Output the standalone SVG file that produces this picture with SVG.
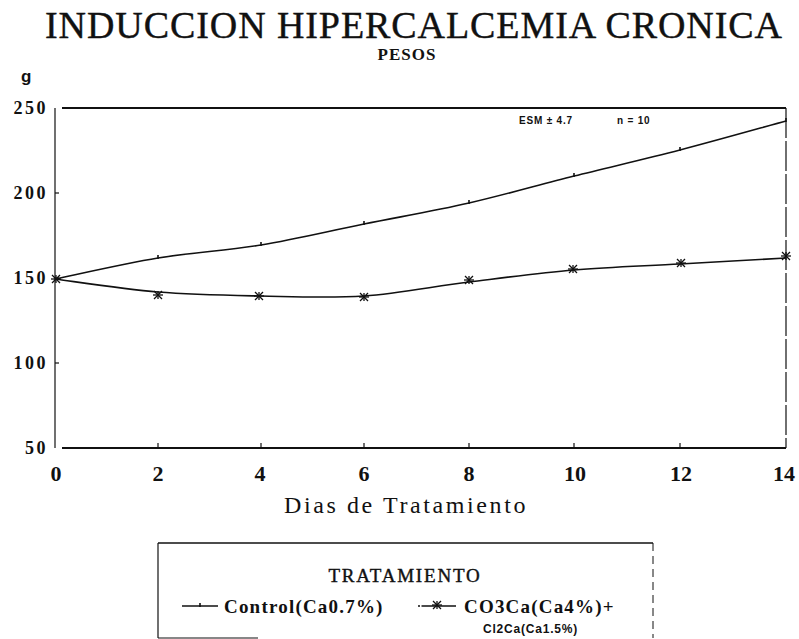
<svg xmlns="http://www.w3.org/2000/svg" xmlns:xlink="http://www.w3.org/1999/xlink" width="799" height="639" viewBox="0 0 799 639">
<style>
.title{font-family:"Liberation Serif",serif;font-size:38px;fill:#111;stroke:#111;stroke-width:0.4}
.sub{font-family:"Liberation Serif",serif;font-size:17px;font-weight:bold;fill:#111}
.ylab{font-family:"Liberation Serif",serif;font-size:18px;font-weight:bold;letter-spacing:2.5px;fill:#111;text-anchor:end}
.xlab{font-family:"Liberation Serif",serif;font-size:22px;font-weight:bold;fill:#111;text-anchor:middle}
.xtitle{font-family:"Liberation Serif",serif;font-size:24px;letter-spacing:2.6px;fill:#111;text-anchor:middle}
.leg{font-family:"Liberation Serif",serif;font-size:19px;font-weight:bold;letter-spacing:1.2px;fill:#111}
.legt{font-family:"Liberation Serif",serif;font-size:19px;letter-spacing:1.8px;fill:#111;stroke:#111;stroke-width:0.4;text-anchor:middle}
.small{font-family:"Liberation Sans",sans-serif;font-size:10px;font-weight:bold;letter-spacing:0.8px;fill:#111}
.axis{stroke:#111;fill:none}
.curve{stroke:#111;stroke-width:1.6;fill:none}
.tick{stroke:#111;stroke-width:1.2}
</style>
<defs>
<g id="ast" stroke="#111" stroke-width="1.3">
<line x1="-5" y1="0" x2="5" y2="0"/>
<line x1="-4" y1="-4" x2="4" y2="4"/>
<line x1="-4" y1="4" x2="4" y2="-4"/>
<line x1="0" y1="-4" x2="0" y2="4"/>
</g>
<g id="dot" stroke="#111" stroke-width="1.6">
<line x1="0" y1="-3" x2="0" y2="1"/>
</g>
</defs>

<g id="title">
<text class="title" x="45" y="38" textLength="737" lengthAdjust="spacing">INDUCCION HIPERCALCEMIA CRONICA</text>
<text class="sub" x="407" y="60" text-anchor="middle" letter-spacing="1">PESOS</text>
</g>

<g id="y-axis">
<text x="21" y="82" font-family="Liberation Sans,sans-serif" font-size="17" font-weight="bold" fill="#111">g</text>
<text class="ylab" x="48" y="114">250</text>
<text class="ylab" x="48" y="199">200</text>
<text class="ylab" x="48" y="284">150</text>
<text class="ylab" x="48" y="369">100</text>
<text class="ylab" x="48" y="454">50</text>
<line class="axis" x1="55" y1="108" x2="55" y2="448" stroke-width="1.2"/>
<line class="tick" x1="55" y1="193" x2="59" y2="193"/>
<line class="tick" x1="55" y1="278" x2="59" y2="278"/>
<line class="tick" x1="55" y1="363" x2="59" y2="363"/>
</g>

<g id="frame">
<line class="axis" x1="62" y1="108" x2="786" y2="108" stroke-width="2"/>
<line class="axis" x1="786" y1="108" x2="786" y2="448" stroke-width="1.2" stroke-dasharray="30 3"/>
<line class="axis" x1="62" y1="448" x2="786" y2="448" stroke-width="2"/>
<text class="small" x="519" y="124">ESM ± 4.7</text>
<text class="small" x="617" y="124">n = 10</text>
</g>

<g id="x-axis">
<line class="tick" x1="158" y1="448" x2="158" y2="443"/>
<line class="tick" x1="261" y1="448" x2="261" y2="443"/>
<line class="tick" x1="364" y1="448" x2="364" y2="443"/>
<line class="tick" x1="469" y1="448" x2="469" y2="443"/>
<line class="tick" x1="574" y1="448" x2="574" y2="443"/>
<line class="tick" x1="680" y1="448" x2="680" y2="443"/>
<text class="xlab" x="56" y="481">0</text>
<text class="xlab" x="158" y="481">2</text>
<text class="xlab" x="260" y="481">4</text>
<text class="xlab" x="364" y="481">6</text>
<text class="xlab" x="469" y="481">8</text>
<text class="xlab" x="575" y="481">10</text>
<text class="xlab" x="681" y="481">12</text>
<text class="xlab" x="784" y="481">14</text>
<text class="xtitle" x="406" y="513">Dias de Tratamiento</text>
</g>

<g id="connectors">
<path id="control-curve" class="curve" d="M55,279 C72.2,275.5 123.7,263.7 158,258 C192.3,252.3 226.7,250.7 261,245 C295.3,239.3 329.3,231 364,224 C398.7,217 434,211 469,203 C504,195 538.8,184.8 574,176 C609.2,167.2 644.7,159.2 680,150 C715.3,140.8 768.3,125.8 786,121"/>
<path id="co3ca-curve" class="curve" d="M55,279 C72.2,281.2 123.7,289.2 158,292 C192.3,294.8 226.7,295.3 261,296 C295.3,296.7 329.3,298.3 364,296 C398.7,293.7 434,286.3 469,282 C504,277.7 538.8,273 574,270 C609.2,267 644.7,266 680,264 C715.3,262 768.3,259 786,258"/>
</g>

<g id="control-markers">
<use xlink:href="#dot" x="158" y="258"/>
<use xlink:href="#dot" x="261" y="245"/>
<use xlink:href="#dot" x="364" y="224"/>
<use xlink:href="#dot" x="469" y="203"/>
<use xlink:href="#dot" x="574" y="176"/>
<use xlink:href="#dot" x="680" y="150"/>
<use xlink:href="#dot" x="786" y="121"/>
</g>

<g id="co3ca-markers">
<use xlink:href="#ast" x="56" y="279"/>
<use xlink:href="#ast" x="158" y="295"/>
<use xlink:href="#ast" x="259" y="296"/>
<use xlink:href="#ast" x="364" y="297"/>
<use xlink:href="#ast" x="469" y="280"/>
<use xlink:href="#ast" x="573" y="269"/>
<use xlink:href="#ast" x="681" y="263"/>
<use xlink:href="#ast" x="786" y="256"/>
</g>

<g id="legend">
<line class="axis" x1="158" y1="543" x2="653" y2="543" stroke-width="1.5"/>
<line class="axis" x1="158" y1="543" x2="158" y2="638" stroke-width="1.2"/>
<line class="axis" x1="653" y1="543" x2="653" y2="638" stroke-width="1" stroke-dasharray="8 5"/>
<line class="axis" x1="158" y1="638" x2="258" y2="638" stroke-width="1.2"/>
<text class="legt" x="405" y="582">TRATAMIENTO</text>
<line class="curve" x1="182" y1="606" x2="218" y2="606"/>
<use xlink:href="#dot" x="200" y="606"/>
<text class="leg" x="224" y="613">Control(Ca0.7%)</text>
<line class="curve" x1="418" y1="606" x2="456" y2="606" stroke-dasharray="2 1.5 40"/>
<use xlink:href="#ast" x="437" y="605"/>
<text class="leg" x="464" y="613">CO3Ca(Ca4%)+</text>
<text x="483" y="633" font-family="Liberation Sans,sans-serif" font-size="12" font-weight="bold" letter-spacing="0.8" fill="#111">Cl2Ca(Ca1.5%)</text>
</g>
</svg>
